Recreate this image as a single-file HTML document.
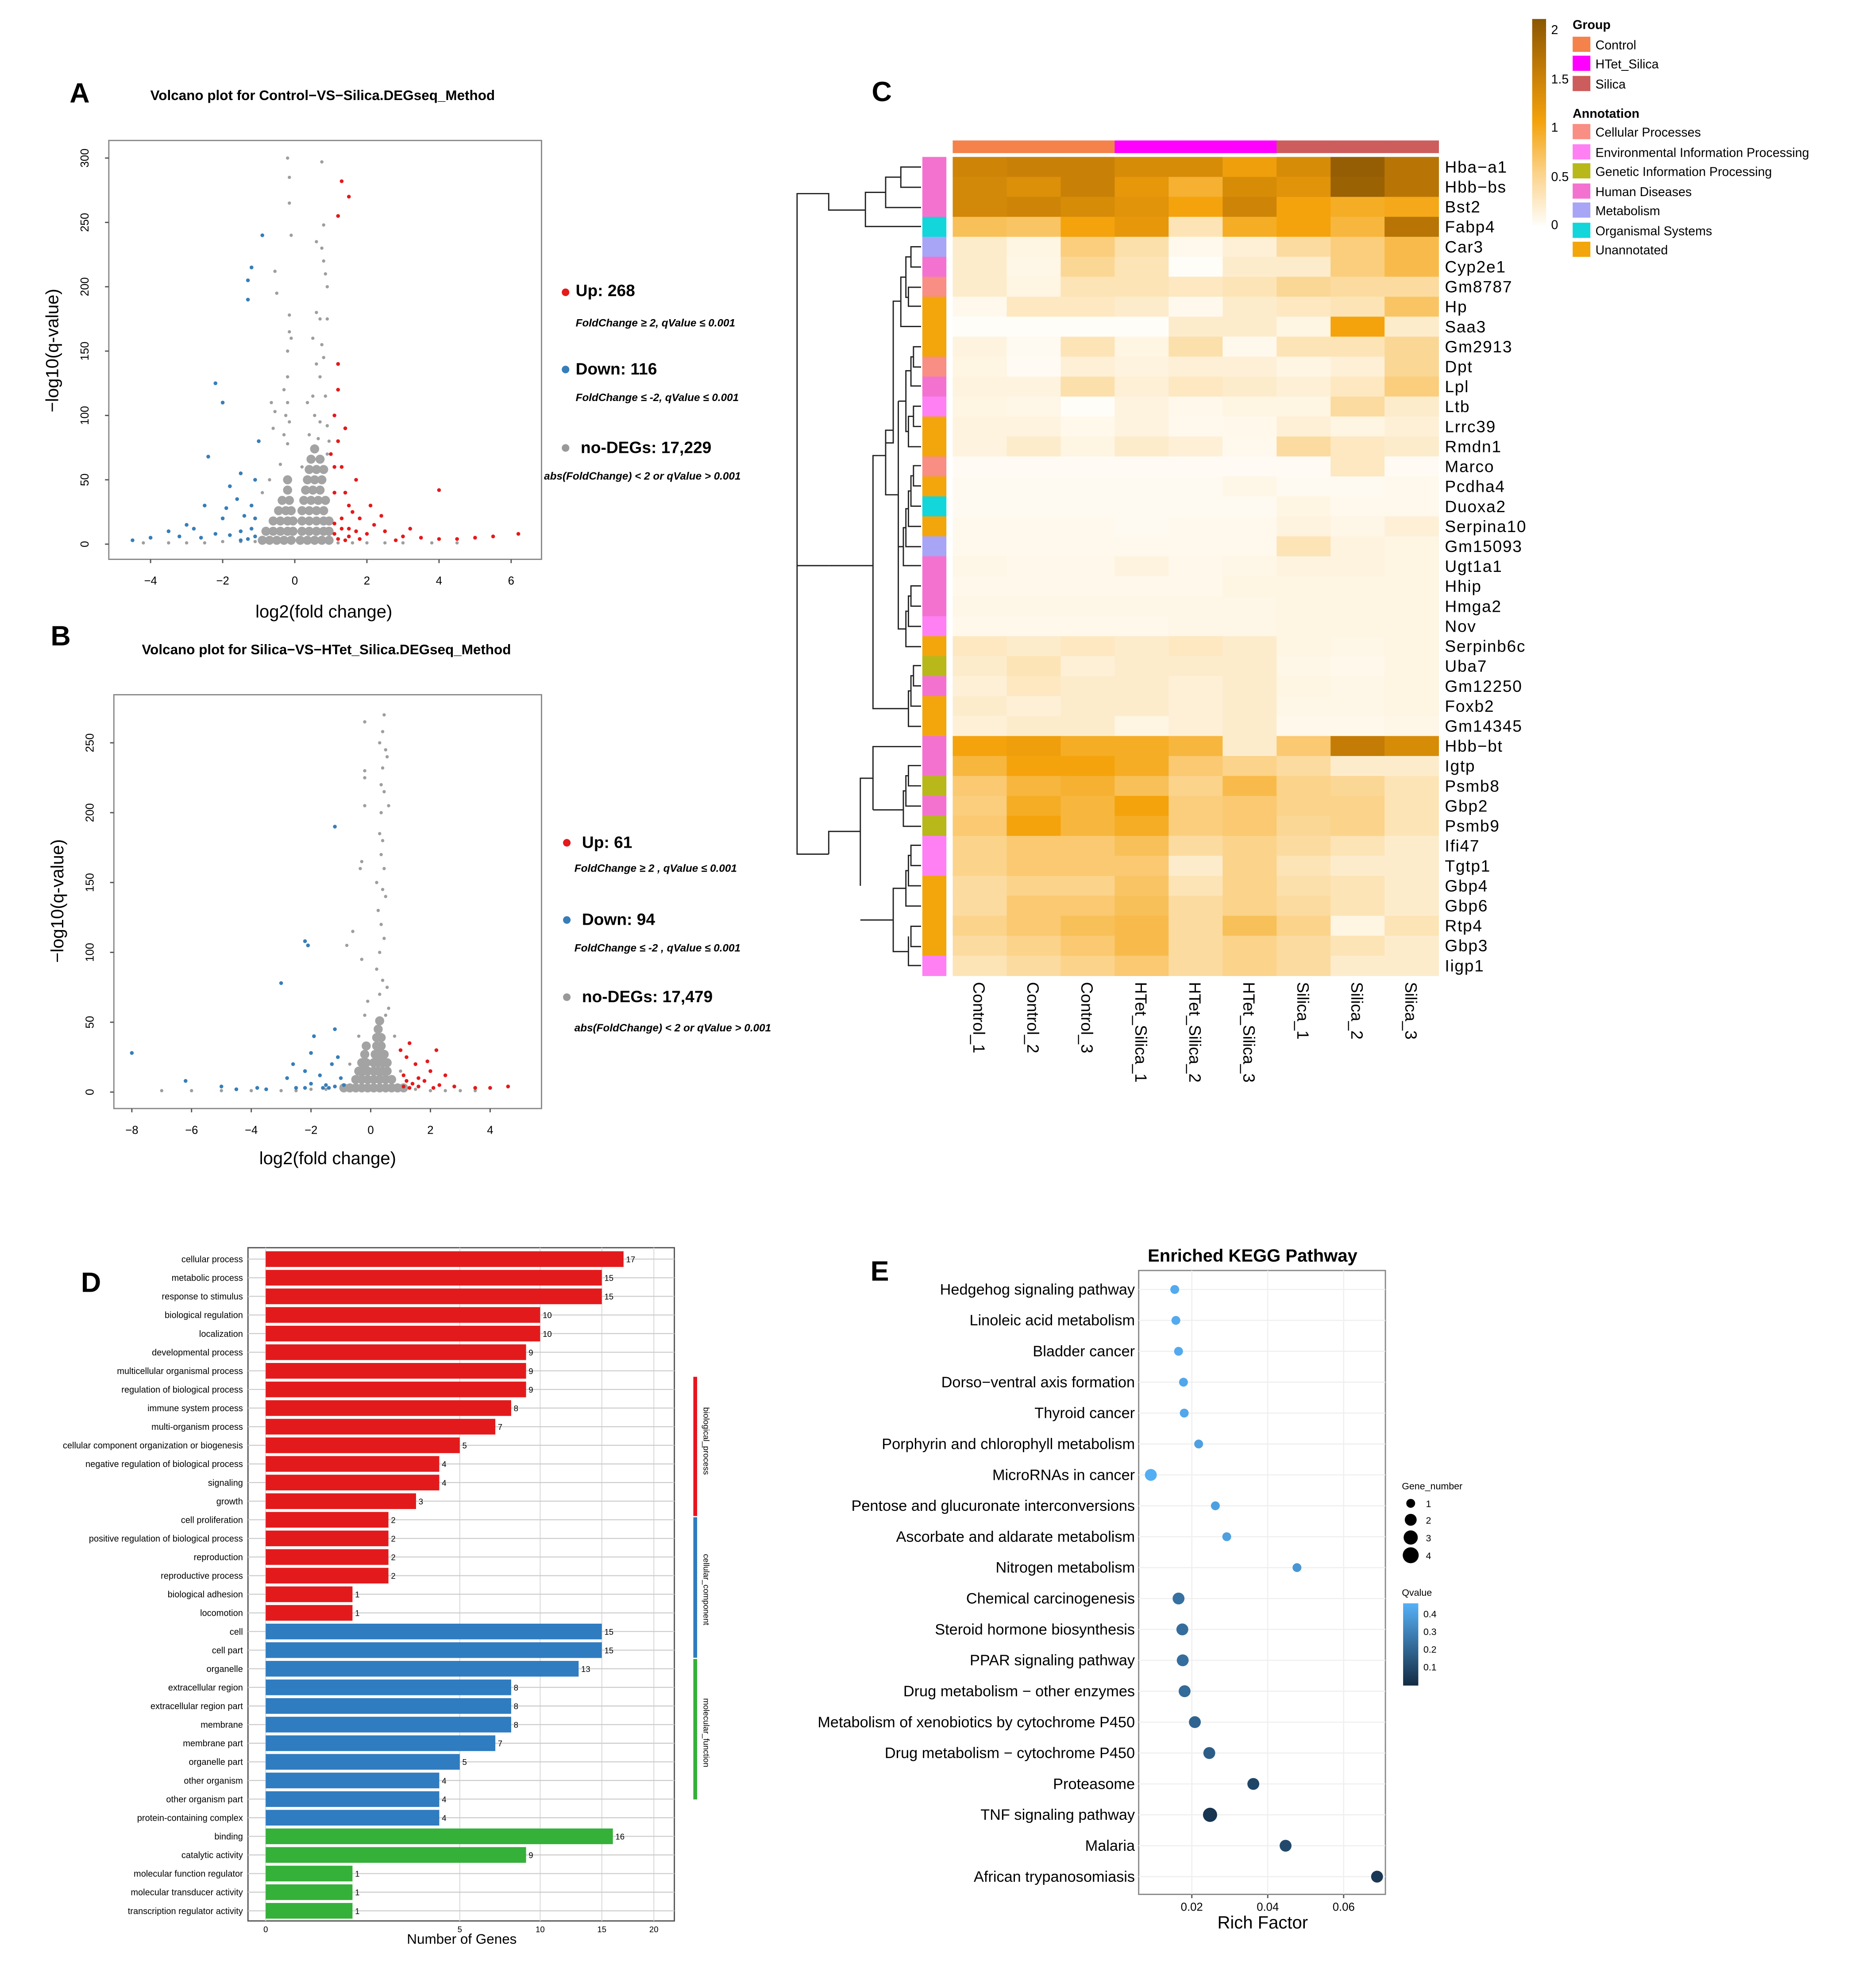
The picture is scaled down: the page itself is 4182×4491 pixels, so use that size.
<!DOCTYPE html>
<html><head><meta charset="utf-8"><style>
html,body{margin:0;padding:0;background:#fff}
svg{display:block;font-family:"Liberation Sans",Arial,sans-serif}
</style></head><body>
<svg id="chart" xmlns="http://www.w3.org/2000/svg" width="4182" height="4491" viewBox="0 0 1463 1571" preserveAspectRatio="none">
<rect x="0" y="0" width="1463" height="1571" fill="#fff"/>
<!-- Panel A static -->
<text x="55" y="81" font-size="22" font-weight="bold">A</text>
<text x="255" y="79" font-size="11" font-weight="bold" text-anchor="middle">Volcano plot for Control−VS−Silica.DEGseq_Method</text>
<rect x="86" y="111" width="342" height="331" fill="none" stroke="#888" stroke-width="1"/>
<text x="256" y="488" font-size="14" text-anchor="middle">log2(fold change)</text>
<text transform="translate(46,277) rotate(-90)" font-size="14" text-anchor="middle">−log10(q-value)</text>
<g font-weight="bold">
<circle cx="447" cy="231" r="3" fill="#e41a1c"/><text x="455" y="234" font-size="13">Up: 268</text>
<text x="455" y="258" font-size="8.5" font-style="italic">FoldChange ≥ 2, qValue ≤ 0.001</text>
<circle cx="447" cy="292" r="3" fill="#377eb8"/><text x="455" y="296" font-size="13">Down: 116</text>
<text x="455" y="317" font-size="8.5" font-style="italic">FoldChange ≤ -2, qValue ≤ 0.001</text>
<circle cx="447" cy="354" r="3" fill="#999"/><text x="459" y="358" font-size="13">no-DEGs: 17,229</text>
<text x="430" y="379" font-size="8.5" font-style="italic">abs(FoldChange) &lt; 2 or qValue &gt; 0.001</text>
</g>
<!-- Panel B static -->
<text x="40" y="510" font-size="22" font-weight="bold">B</text>
<text x="258" y="517" font-size="11" font-weight="bold" text-anchor="middle">Volcano plot for Silica−VS−HTet_Silica.DEGseq_Method</text>
<rect x="90" y="549" width="338" height="327" fill="none" stroke="#888" stroke-width="1"/>
<text x="259" y="920" font-size="14" text-anchor="middle">log2(fold change)</text>
<text transform="translate(50,712) rotate(-90)" font-size="14" text-anchor="middle">−log10(q-value)</text>
<g font-weight="bold">
<circle cx="448" cy="666" r="3" fill="#e41a1c"/><text x="460" y="670" font-size="13">Up: 61</text>
<text x="454" y="689" font-size="8.5" font-style="italic">FoldChange  ≥ 2 , qValue  ≤  0.001</text>
<circle cx="448" cy="727" r="3" fill="#377eb8"/><text x="460" y="731" font-size="13">Down: 94</text>
<text x="454" y="752" font-size="8.5" font-style="italic">FoldChange  ≤ -2 , qValue ≤ 0.001</text>
<circle cx="448" cy="788" r="3" fill="#999"/><text x="460" y="792" font-size="13">no-DEGs: 17,479</text>
<text x="454" y="815" font-size="8.5" font-style="italic">abs(FoldChange) &lt; 2 or qValue  &gt;  0.001</text>
</g>
<!-- Panel C static -->
<text x="689" y="80" font-size="22" font-weight="bold">C</text>
<g font-size="10">
<defs><linearGradient id="hg" x1="0" y1="1" x2="0" y2="0">
<stop offset="0" stop-color="#fffdf8"/><stop offset="0.25" stop-color="#fbd38a"/><stop offset="0.5" stop-color="#f4a30c"/><stop offset="0.75" stop-color="#c47c06"/><stop offset="1" stop-color="#8a5703"/></linearGradient>
<linearGradient id="qg" x1="0" y1="1" x2="0" y2="0"><stop offset="0" stop-color="#132b43"/><stop offset="1" stop-color="#56b1f7"/></linearGradient></defs>
<rect x="1211" y="15" width="11" height="163" fill="url(#hg)"/>
<text x="1226" y="27">2</text><text x="1226" y="66">1.5</text><text x="1226" y="104">1</text><text x="1226" y="143">0.5</text><text x="1226" y="181">0</text>
<text x="1243" y="23" font-weight="bold">Group</text>
<rect x="1243" y="29" width="14" height="12" fill="#f4824a"/><text x="1261" y="39">Control</text>
<rect x="1243" y="44" width="14" height="12" fill="#ff00ff"/><text x="1261" y="54">HTet_Silica</text>
<rect x="1243" y="60" width="14" height="12" fill="#cd5c5c"/><text x="1261" y="70">Silica</text>
<text x="1243" y="93" font-weight="bold">Annotation</text>
<rect x="1243" y="98" width="14" height="12" fill="#f88e84"/><text x="1261" y="108">Cellular Processes</text>
<rect x="1243" y="114" width="14" height="12" fill="#ff80f2"/><text x="1261" y="124">Environmental Information Processing</text>
<rect x="1243" y="129" width="14" height="12" fill="#b8b81a"/><text x="1261" y="139">Genetic Information Processing</text>
<rect x="1243" y="145" width="14" height="12" fill="#f472cf"/><text x="1261" y="155">Human Diseases</text>
<rect x="1243" y="160" width="14" height="12" fill="#a8a4f6"/><text x="1261" y="170">Metabolism</text>
<rect x="1243" y="176" width="14" height="12" fill="#12d6d9"/><text x="1261" y="186">Organismal Systems</text>
<rect x="1243" y="191" width="14" height="12" fill="#f2a60c"/><text x="1261" y="201">Unannotated</text>
</g>
<g fill="none" stroke="#222" stroke-width="1">
<path d="M728 132H712V148H728 M728 164H700V140H712 M728 179H684V152H700 M684 166H655V153H630V447H655"/>
<path d="M728 195H720V211H728 M728 227H718V242H728 M720 203H716V235H718 M728 258H712V219H716 M712 238H706V350H700"/>
<path d="M728 274H722V290H728 M728 305H720V282H722 M728 321H722V337H728 M728 353H718V329H722 M720 293H716V341H718 M716 317H710"/>
<path d="M728 368H722V384H728 M728 400H720V376H722 M728 416H718V388H720 M728 432H716V402H718 M728 447H714V417H716 M728 463H720V479H728 M728 495H718V471H720 M728 511H716V483H718 M714 432H710V497H716 M710 317V465 M706 340H700V391H710"/>
<path d="M728 526H722V542H728 M728 558H720V534H722 M728 574H718V546H720 M700 360H690V560H718 M690 447H655"/>
<path d="M630 447V675H655 M728 590H690V640 M728 605H718V621H728 M728 637H716V613H718 M728 653H714V625H716 M714 640H690 M690 615H680V700 M728 668H720V684H728 M728 700H718V676H720 M728 716H716V688H718 M728 732H720V748H728 M728 763H718V740H718 M716 702H706V752H718 M706 727H680 M680 657H655V675"/>
</g>
<!-- Panel D static -->
<text x="64" y="1021" font-size="22" font-weight="bold">D</text>
<rect x="196" y="986" width="337" height="532" fill="none" stroke="#555" stroke-width="1"/>
<text x="365" y="1536" font-size="11" text-anchor="middle">Number of Genes</text>
<g>
<rect x="548" y="1088" width="3" height="110" fill="#e8141c"/>
<rect x="548" y="1199" width="3" height="111" fill="#2f7cc0"/>
<rect x="548" y="1311" width="3" height="111" fill="#35b039"/>
<text transform="translate(556,1112) rotate(90)" font-size="6.5">biological_process</text>
<text transform="translate(556,1228) rotate(90)" font-size="6.5">cellular_component</text>
<text transform="translate(556,1342) rotate(90)" font-size="6.5">molecular_function</text>
</g>
<!-- Panel E static -->
<text x="688" y="1012" font-size="22" font-weight="bold">E</text>
<text x="990" y="997" font-size="14" font-weight="bold" text-anchor="middle">Enriched KEGG Pathway</text>
<rect x="900" y="1004" width="195" height="493" fill="none" stroke="#888" stroke-width="1"/>
<text x="998" y="1524" font-size="14" text-anchor="middle">Rich Factor</text>
<g font-size="7.5">
<text x="1108" y="1177">Gene_number</text>
<circle cx="1115" cy="1188" r="3.5"/><text x="1127" y="1191">1</text>
<circle cx="1115" cy="1201" r="4.7"/><text x="1127" y="1204">2</text>
<circle cx="1115" cy="1215" r="5.6"/><text x="1127" y="1218">3</text>
<circle cx="1115" cy="1229" r="6.3"/><text x="1127" y="1232">4</text>
<text x="1108" y="1261">Qvalue</text>
<rect x="1109" y="1267" width="12" height="65" fill="url(#qg)"/>
<text x="1125" y="1278">0.4</text><text x="1125" y="1292">0.3</text><text x="1125" y="1306">0.2</text><text x="1125" y="1320">0.1</text>
</g>
<g id="dyn"></g>
</svg>
<script>
// ===== Volcano A data =====
const aRed=[[1.2,255],[1.3,282],[1.5,270],[1.1,100],[1.2,80],[1.3,60],[1.4,40],[1.5,30],[1.8,20],[2.2,15],[2.5,10],[3,6],[3.5,5],[4,4],[4.5,4],[5,5],[5.5,6],[6.2,8],[4,42],[1.2,120],[1.5,12],[1.1,40],[1.6,25],[2,8],[1.3,20],[1.1,60],[2.8,3],[1.2,140],[1.8,4],[1.4,90],[2.4,22],[1.7,50],[2.1,30],[3.2,12],[1.0,70],[1.1,8],[1.2,4],[1.3,12],[1.5,6],[1.1,16],[1.4,3],[1.7,10]];
const aBlue=[[-0.9,240],[-1.2,215],[-1.3,205],[-1.3,190],[-2.2,125],[-2,110],[-2.4,68],[-1.5,55],[-1.8,45],[-1.1,50],[-2.5,30],[-3,15],[-3.5,10],[-4,5],[-4.5,3],[-2,20],[-1.5,10],[-1.2,30],[-2.8,12],[-3.2,6],[-1.8,7],[-1.0,80],[-1.1,20],[-1.6,35],[-2.2,8],[-1.4,22],[-2.6,5],[-1.9,28],[-1.1,6],[-1.3,4],[-1.5,3],[-1.2,12]];
const aGrayCore=[[-0.9,3],[-0.7,3],[-0.5,3],[-0.3,3],[-0.1,3],[0.15,3],[0.35,3],[0.55,3],[0.75,3],[0.95,3],
[-0.8,10],[-0.6,10],[-0.4,10],[-0.2,10],[-0.05,10],[0.2,10],[0.4,10],[0.6,10],[0.8,10],[0.95,10],
[-0.6,18],[-0.4,18],[-0.2,18],[-0.05,18],[0.2,18],[0.4,18],[0.6,18],[0.8,18],[0.95,18],
[-0.45,26],[-0.25,26],[-0.1,26],[0.2,26],[0.4,26],[0.6,26],[0.8,26],
[-0.35,34],[-0.15,34],[0.25,34],[0.45,34],[0.65,34],[0.85,34],
[-0.2,42],[0.3,42],[0.5,42],[0.7,42],[-0.2,50],[0.35,50],[0.55,50],[0.75,50],
[0.4,58],[0.6,58],[0.8,58],[0.45,66],[0.7,66],[0.55,74]];
const aGray=[[-0.2,300],[-0.15,285],[-0.15,265],[0.75,297],[0.8,248],[0.6,235],[0.75,230],[0.8,220],[0.85,210],[0.9,200],[-0.55,212],[-0.5,195],[-0.15,178],[-0.15,165],[-0.1,160],[-0.2,150],[0.6,180],[0.7,175],[0.9,175],[0.5,160],[0.75,155],[0.8,145],[0.6,140],[0.7,130],[0.5,115],[0.85,115],[-0.2,130],[-0.3,120],[-0.2,110],[-0.25,100],[-0.15,95],[0.55,100],[0.7,95],[0.9,92],[0.4,85],[0.65,82],[0.95,80],[-0.65,110],[-0.55,103],[-0.3,85],[-0.2,78],[0.9,70],[-0.4,62],[-0.7,50],[-0.9,40],[-1.1,2],[-1.5,2],[-2,2],[-2.5,1],[-3,1],[-3.5,1],[-4.2,1],[1.2,1],[1.6,1],[2,1],[2.5,1],[3,1],[3.8,1],[4.5,1],[-0.1,240],[0.35,110],[-0.6,90],[0.2,60]];
const aXTicks=[-4,-2,0,2,4,6];
const aYTicks=[0,50,100,150,200,250,300];
// ===== Volcano B data =====
const bRed=[[1,30],[1.2,25],[1.5,20],[2,15],[1.8,8],[2.3,5],[2.8,4],[3.5,3],[4,3],[4.6,4],[1.3,35],[1.6,10],[2.2,30],[1.1,12],[1.4,6],[1.9,22],[2.5,12],[1.1,4],[1.3,3],[1.6,4],[2.1,3],[1.2,8]];
const bBlue=[[-8,28],[-6.2,8],[-5,4],[-4.5,2],[-3.5,2],[-2.8,10],[-2.2,15],[-2,28],[-2.1,105],[-2.2,108],[-3,78],[-1.9,40],[-1.3,20],[-1.5,5],[-1,10],[-3.8,3],[-2.5,3],[-2,6],[-1.2,45],[-1.2,190],[-1.1,25],[-1.7,12],[-2.6,20],[-1.2,4],[-1.4,3],[-0.9,5],[-1.6,3],[-2.2,3]];
const bGrayCore=[[-0.7,3],[-0.5,3],[-0.3,3],[-0.1,3],[0.1,3],[0.3,3],[0.5,3],[0.7,3],[0.9,3],[1.1,3],[-0.9,3],
[-0.5,9],[-0.3,9],[-0.1,9],[0.1,9],[0.3,9],[0.5,9],[0.7,9],
[-0.4,15],[-0.25,15],[-0.1,15],[0.1,15],[0.25,15],[0.4,15],[0.55,15],
[-0.3,21],[-0.15,21],[0.1,21],[0.25,21],[0.4,21],[0.55,21],
[-0.2,27],[0.15,27],[0.3,27],[0.45,27],[-0.15,33],[0.2,33],[0.35,33],[0.2,39],[0.35,39],[0.25,45],[0.3,51]];
const bGray=[[-0.2,265],[0.45,270],[0.4,258],[0.3,250],[0.5,245],[0.55,240],[-0.2,230],[-0.2,225],[0.4,232],[0.35,220],[0.45,215],[-0.2,205],[0.35,200],[0.6,205],[0.3,185],[0.4,180],[0.35,170],[0.45,160],[-0.3,165],[-0.35,160],[0.2,150],[0.4,145],[0.5,140],[0.25,130],[0.35,120],[0.45,110],[0.3,100],[-0.6,115],[-0.8,105],[-0.3,95],[0.2,88],[0.4,80],[0.3,70],[0.55,75],[0.6,60],[-0.1,65],[-0.2,55],[0.5,55],[-0.4,40],[0.8,40],[-0.7,20],[1.0,15],[-1.5,2],[-2,2],[-2.5,1],[-3,1],[-4,1],[-5,1],[-6,1],[-7,1],[1.5,2],[2,1],[2.5,1],[3,1],[3.5,1]];
const bXTicks=[-8,-6,-4,-2,0,2,4];
const bYTicks=[0,50,100,150,200,250];
// ===== Heatmap data =====
const hmCols=["Control_1","Control_2","Control_3","HTet_Silica_1","HTet_Silica_2","HTet_Silica_3","Silica_1","Silica_2","Silica_3"];
const hmGroups=["Control","Control","Control","HTet_Silica","HTet_Silica","HTet_Silica","Silica","Silica","Silica"];
const hmRows=["Hba−a1","Hbb−bs","Bst2","Fabp4","Car3","Cyp2e1","Gm8787","Hp","Saa3","Gm2913","Dpt","Lpl","Ltb","Lrrc39","Rmdn1","Marco","Pcdha4","Duoxa2","Serpina10","Gm15093","Ugt1a1","Hhip","Hmga2","Nov","Serpinb6c","Uba7","Gm12250","Foxb2","Gm14345","Hbb−bt","Igtp","Psmb8","Gbp2","Psmb9","Ifi47","Tgtp1","Gbp4","Gbp6","Rtp4","Gbp3","Iigp1"];
const hmAnnot=["HD","HD","HD","OS","ME","HD","CP","UN","UN","UN","CP","HD","EIP","UN","UN","CP","UN","OS","UN","ME","HD","HD","HD","EIP","UN","GIP","HD","UN","UN","HD","HD","GIP","HD","GIP","EIP","EIP","UN","UN","UN","UN","EIP"];
const hmValues=[
[1.4,1.45,1.45,1.3,1.3,1.05,1.3,1.9,1.6],
[1.35,1.25,1.45,1.15,0.85,1.3,1.2,1.85,1.6],
[1.35,1.4,1.3,1.2,1.0,1.4,1.0,0.9,0.95],
[0.7,0.65,1.0,1.15,0.3,0.9,1.0,0.8,1.6],
[0.2,0.1,0.55,0.35,0.05,0.15,0.4,0.55,0.75],
[0.2,0.08,0.45,0.3,0.0,0.2,0.2,0.55,0.75],
[0.2,0.1,0.3,0.3,0.25,0.3,0.45,0.4,0.4],
[0.05,0.25,0.25,0.2,0.05,0.2,0.25,0.3,0.65],
[0.0,0.0,0.0,0.0,0.2,0.2,0.1,1.0,0.2],
[0.12,0.03,0.3,0.1,0.35,0.05,0.3,0.3,0.45],
[0.1,0.02,0.15,0.12,0.15,0.15,0.1,0.15,0.45],
[0.12,0.12,0.35,0.15,0.25,0.2,0.15,0.25,0.55],
[0.1,0.08,0.0,0.12,0.06,0.1,0.1,0.4,0.2],
[0.12,0.12,0.06,0.12,0.05,0.06,0.15,0.1,0.15],
[0.12,0.2,0.1,0.2,0.15,0.05,0.4,0.25,0.2],
[0.02,0.02,0.02,0.02,0.02,0.02,0.02,0.25,0.02],
[0.03,0.03,0.03,0.03,0.03,0.08,0.03,0.03,0.05],
[0.03,0.03,0.03,0.03,0.03,0.03,0.1,0.05,0.05],
[0.05,0.05,0.05,0.03,0.05,0.05,0.12,0.08,0.15],
[0.05,0.05,0.05,0.05,0.05,0.05,0.3,0.12,0.1],
[0.08,0.06,0.06,0.12,0.06,0.08,0.12,0.12,0.1],
[0.06,0.06,0.06,0.06,0.06,0.1,0.1,0.1,0.1],
[0.08,0.08,0.08,0.08,0.08,0.08,0.1,0.1,0.1],
[0.06,0.06,0.06,0.06,0.08,0.08,0.1,0.1,0.1],
[0.25,0.2,0.25,0.2,0.25,0.2,0.1,0.08,0.1],
[0.2,0.3,0.15,0.2,0.2,0.2,0.08,0.06,0.1],
[0.15,0.25,0.2,0.2,0.15,0.2,0.1,0.08,0.1],
[0.2,0.15,0.2,0.2,0.15,0.2,0.08,0.08,0.1],
[0.15,0.2,0.2,0.1,0.15,0.2,0.06,0.06,0.08],
[1.0,1.05,0.9,0.9,0.8,0.2,0.6,1.5,1.3],
[0.8,1.0,1.0,0.9,0.6,0.5,0.4,0.2,0.2],
[0.6,0.8,0.85,0.7,0.5,0.75,0.5,0.45,0.3],
[0.55,0.9,0.8,1.0,0.55,0.6,0.5,0.5,0.3],
[0.6,1.0,0.8,0.9,0.55,0.6,0.45,0.5,0.3],
[0.5,0.6,0.6,0.7,0.4,0.5,0.4,0.3,0.2],
[0.5,0.6,0.6,0.6,0.2,0.5,0.3,0.2,0.2],
[0.4,0.5,0.5,0.65,0.3,0.5,0.35,0.3,0.2],
[0.4,0.6,0.6,0.7,0.4,0.5,0.4,0.3,0.2],
[0.5,0.6,0.7,0.75,0.4,0.7,0.5,0.1,0.3],
[0.4,0.5,0.6,0.75,0.4,0.5,0.4,0.3,0.2],
[0.3,0.4,0.5,0.6,0.4,0.5,0.4,0.2,0.2]];
// ===== GO bar data =====
const goTerms=["cellular process","metabolic process","response to stimulus","biological regulation","localization","developmental process","multicellular organismal process","regulation of biological process","immune system process","multi-organism process","cellular component organization or biogenesis","negative regulation of biological process","signaling","growth","cell proliferation","positive regulation of biological process","reproduction","reproductive process","biological adhesion","locomotion","cell","cell part","organelle","extracellular region","extracellular region part","membrane","membrane part","organelle part","other organism","other organism part","protein-containing complex","binding","catalytic activity","molecular function regulator","molecular transducer activity","transcription regulator activity"];
const goCounts=[17,15,15,10,10,9,9,9,8,7,5,4,4,3,2,2,2,2,1,1,15,15,13,8,8,8,7,5,4,4,4,16,9,1,1,1];
const goClass=["BP","BP","BP","BP","BP","BP","BP","BP","BP","BP","BP","BP","BP","BP","BP","BP","BP","BP","BP","BP","CC","CC","CC","CC","CC","CC","CC","CC","CC","CC","CC","MF","MF","MF","MF","MF"];
const goTicks=[0,5,10,15,20];
// ===== KEGG data =====
const keggPaths=["Hedgehog signaling pathway","Linoleic acid metabolism","Bladder cancer","Dorso−ventral axis formation","Thyroid cancer","Porphyrin and chlorophyll metabolism","MicroRNAs in cancer","Pentose and glucuronate interconversions","Ascorbate and aldarate metabolism","Nitrogen metabolism","Chemical carcinogenesis","Steroid hormone biosynthesis","PPAR signaling pathway","Drug metabolism − other enzymes","Metabolism of xenobiotics by cytochrome P450","Drug metabolism − cytochrome P450","Proteasome","TNF signaling pathway","Malaria","African trypanosomiasis"];
const keggRich=[0.0155,0.0158,0.0165,0.0178,0.018,0.0218,0.0092,0.0262,0.0292,0.0477,0.0165,0.0175,0.0176,0.0181,0.0208,0.0246,0.0362,0.0248,0.0447,0.0688];
const keggGenes=[1,1,1,1,1,1,2,1,1,1,2,2,2,2,2,2,2,3,2,2];
const keggQ=[0.43,0.43,0.43,0.42,0.42,0.4,0.44,0.4,0.4,0.37,0.26,0.25,0.25,0.24,0.22,0.2,0.13,0.08,0.14,0.09];
const keggTicks=[0.02,0.04,0.06];

const NS='http://www.w3.org/2000/svg';
const root=document.getElementById('dyn');
function mk(tag,attrs){const e=document.createElementNS(NS,tag);for(const k in attrs)e.setAttribute(k,attrs[k]);root.appendChild(e);return e;}
function tx(x,y,s,attrs){const e=mk('text',Object.assign({x:x,y:y},attrs||{}));e.textContent=s;return e;}

// ---- volcano ----
function volcano(id,sx,sy,xt,yt,yLabX,xLabY,core,gray,blue,red,left,right,top,bottom){
  xt.forEach(function(v){
    const l=mk('line',{x1:sx(v),x2:sx(v),y1:bottom,y2:bottom+3,stroke:'#555'});
    
    
    const t=tx(sx(v),xLabY,String(v).replace('-','−'),{'font-size':9,'text-anchor':'middle'});
    
    
  });
  yt.forEach(function(v){
    const l=mk('line',{x1:left-3,x2:left,y1:sy(v),y2:sy(v),stroke:'#555'});
    
    
    const t=tx(0,0,String(v),{'font-size':9,'text-anchor':'middle',transform:'translate('+yLabX+','+sy(v)+') rotate(-90)'});
    
    
  });
  core.forEach(function(p){
    const c=mk('circle',{cx:sx(p[0]),cy:sy(p[1]),r:3.6,fill:'#a3a3a3'});
    
    
  });
  gray.forEach(function(p){
    const c=mk('circle',{cx:sx(p[0]),cy:sy(p[1]),r:1.3,fill:'#9e9e9e'});
    
    
  });
  blue.forEach(function(p){
    const c=mk('circle',{cx:sx(p[0]),cy:sy(p[1]),r:1.5,fill:'#377eb8'});
    
    
  });
  red.forEach(function(p){
    const c=mk('circle',{cx:sx(p[0]),cy:sy(p[1]),r:1.5,fill:'#e41a1c'});
    
    
  });
}
volcano('volcano-a',function(v){return 233+v*28.5;},function(v){return 430-v*1.017;},aXTicks,aYTicks,70,462,aGrayCore,aGray,aBlue,aRed,86,428,111,442);
volcano('volcano-b',function(v){return 293+v*23.6;},function(v){return 863-v*1.104;},bXTicks,bYTicks,74,896,bGrayCore,bGray,bBlue,bRed,90,428,549,876);

// ---- heatmap ----
const stops=[[0,[255,253,248]],[0.5,[251,211,138]],[1,[244,163,12]],[1.5,[196,124,6]],[2,[138,87,3]]];
function hcol(v){v=Math.max(0,Math.min(2,v));for(let i=0;i<stops.length-1;i++){const a=stops[i],b=stops[i+1];if(v<=b[0]){const t=(v-a[0])/(b[0]-a[0]);return 'rgb('+a[1].map(function(c,k){return Math.round(c+(b[1][k]-c)*t);}).join(',')+')';}}return 'rgb(138,87,3)';}
const gCol={"Control":"#f4824a","HTet_Silica":"#ff00ff","Silica":"#cd5c5c"};
const aCol={"CP":"#f88e84","EIP":"#ff80f2","GIP":"#b8b81a","HD":"#f472cf","ME":"#a8a4f6","OS":"#12d6d9","UN":"#f2a60c"};
const hx0=753,cw=(1137-753)/9,hy0=124,rh=(771-124)/41;
hmGroups.forEach(function(g,j){
  const r=mk('rect',{x:hx0+j*cw,y:111,width:cw+0.3,height:10,fill:gCol[g]});
  
  
});
hmRows.forEach(function(name,i){
  const y=hy0+i*rh;
  hmValues[i].forEach(function(v,j){
    const r=mk('rect',{x:hx0+j*cw,y:y,width:cw+0.3,height:rh+0.3,fill:hcol(v)});
    
    
  });
  const a=mk('rect',{x:729,y:y,width:19,height:rh+0.3,fill:aCol[hmAnnot[i]]});
  
  
  const t=tx(1142,y+rh/2+4.5,name,{'font-size':13,'letter-spacing':'0.6'});
  
  
});
hmCols.forEach(function(c,j){
  const t=tx(0,0,c,{'font-size':13,transform:'translate('+(hx0+j*cw+cw/2-5)+',776) rotate(90)'});
  
  
});

// ---- GO bars ----
const bx0=210,bk=68.6,by0=995,bstep=(1510-995)/35;
function bxs(v){return bx0+Math.sqrt(v)*bk;}
const cCol={"BP":"#e31a1c","CC":"#2f7cc0","MF":"#35b039"};
goTicks.forEach(function(v){
  const g=mk('line',{x1:bxs(v),x2:bxs(v),y1:986,y2:1518,stroke:'#ddd','stroke-width':0.8});
  
  
  const t=tx(bxs(v),1527,String(v),{'font-size':6.5,'text-anchor':'middle'});
  
  
});
goTerms.forEach(function(term,i){
  const y=by0+i*bstep;
  const gl=mk('line',{x1:196,x2:533,y1:y,y2:y,stroke:'#ccc','stroke-width':0.8});
  
  
  const b=mk('rect',{x:bx0,y:y-6.2,width:bxs(goCounts[i])-bx0,height:12.4,fill:cCol[goClass[i]]});
  
  
  const v=tx(bxs(goCounts[i])+2,y+2.5,String(goCounts[i]),{'font-size':6.5});
  
  
  const l=tx(192,y+2.5,term,{'font-size':7,'text-anchor':'end'});
  
  
});

// ---- KEGG ----
function kx(v){return 882+v*3000;}
const ky0=1019,kstep=(1483-1019)/19;
const rMap=[0,3.5,4.7,5.6,6.3];
function qcol(q){const t=Math.max(0,Math.min(1,(q-0.05)/0.4));const a=[19,43,67],b=[86,177,247];return 'rgb('+a.map(function(c,k){return Math.round(c+(b[k]-c)*t);}).join(',')+')';}
keggTicks.forEach(function(v){
  const g=mk('line',{x1:kx(v),x2:kx(v),y1:1004,y2:1497,stroke:'#eee','stroke-width':0.8});
  
  
  const tk=mk('line',{x1:kx(v),x2:kx(v),y1:1497,y2:1500,stroke:'#555'});
  
  
  const t=tx(kx(v),1510,String(v),{'font-size':9,'text-anchor':'middle'});
  
  
});
keggPaths.forEach(function(p,i){
  const y=ky0+i*kstep;
  const gl=mk('line',{x1:900,x2:1095,y1:y,y2:y,stroke:'#eee','stroke-width':0.8});
  
  
  const l=tx(897,y+4,p,{'font-size':12,'text-anchor':'end'});
  
  
  const c=mk('circle',{cx:kx(keggRich[i]),cy:y,r:rMap[keggGenes[i]],fill:qcol(keggQ[i])});
  
  
});
</script>
</body></html>
